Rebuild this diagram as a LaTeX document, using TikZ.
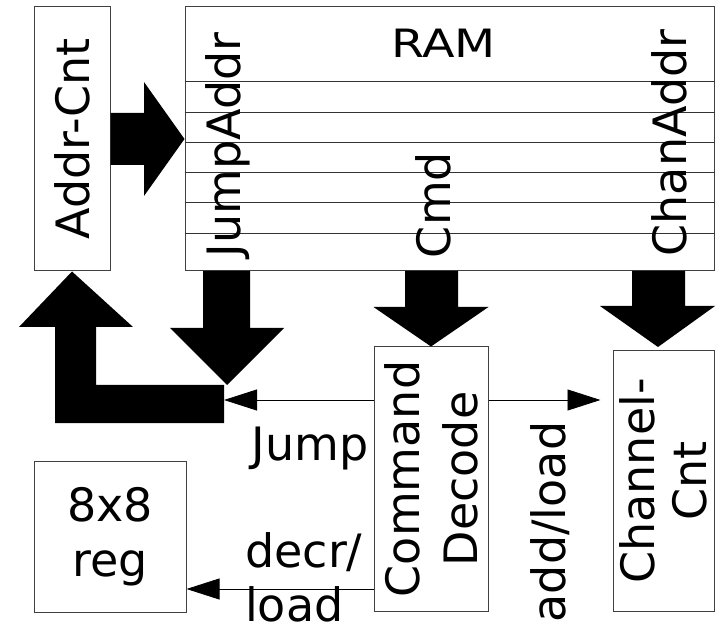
\documentclass[tikz,border=0pt]{standalone}
\usepackage{fontspec}
\setmainfont{DejaVu Sans}
\usetikzlibrary{arrows.meta}

\begin{document}
\begin{tikzpicture}[x=1pt, y=-1pt,
		box/.style={draw=black!75, line width=1pt, inner sep=0pt},
		txt/.style={font=\fontsize{46}{55}\selectfont, inner sep=0pt},
		rowline/.style={draw=black!80, line width=1pt},
		bigarrow/.style={fill=black},
		sig/.style={draw=black, line width=0.8pt, -{Triangle[length=33pt, width=21pt]}}]
		\useasboundingbox (0,0) rectangle (721,631);
		% blocks
		\node[box, minimum width=76, minimum height=264] (addr) at (72,139) {};
		\node[box, minimum width=529, minimum height=264] (ram) at (449.5,139) {};
		\node[box, minimum width=114, minimum height=264] (cmd) at (431,479) {};
		\node[box, minimum width=101, minimum height=260] (chan) at (663.5,481) {};
		\node[box, minimum width=152, minimum height=151] (reg) at (110,536.5) {};
		% memory rows
		\foreach \y in {82,113,143,173,203,234}
			\draw[rowline] (ram.west |- 0,\y) -- (ram.east |- 0,\y);
		% texts
		\node[txt, rotate=90] (addrlbl) at (addr.center) {Addr-Cnt};
		\node[txt, font=\fontsize{39}{45}\selectfont] (ramlbl) at (443.5,43.5) {\scalebox{1.22}[1]{RAM}};
		\node[txt, rotate=90] (jaddr) at (228,145) {JumpAddr};
		\node[txt, rotate=90] (cmdf) at (433,205) {Cmd};
		\node[txt, rotate=90] (caddr) at (669,143) {ChanAddr};
		\node[txt, rotate=90, align=center, font=\fontsize{46}{58}\selectfont] (cmdlbl) at (cmd.center) {Command\\Decode};
		\node[txt, rotate=90, align=center, font=\fontsize{46}{52}\selectfont] (chanlbl) at (chan.center) {Channel-\\Cnt};
		\node[txt, align=center] (reglbl) at (reg.center) {8x8\\reg};
		% wide buses
		\fill[bigarrow] (addr.east |- 0,113) -- (144,113) -- (144,82) -- (ram.west)
			-- (144,196) -- (144,165) -- (addr.east |- 0,165) -- cycle;
		\fill[bigarrow] (203,271) -- (250,271) -- (250,328) -- (284,328) -- (227,385)
			-- (170,328) -- (203,328) -- cycle;
		\fill[bigarrow] (405,271) -- (458,271) -- (458,307) -- (cmd.north east |- 0,307) -- (cmd.north)
			-- (cmd.north west |- 0,307) -- (405,307) -- cycle;
		\fill[bigarrow] (632,271) -- (685,271) -- (685,306) -- (715,306) -- (658,347)
			-- (600,306) -- (632,306) -- cycle;
		\fill[bigarrow] (addr.south) -- (133,327) -- (96,327) -- (96,385) -- (224,385)
			-- (224,423) -- (55,423) -- (55,327) -- (19,327) -- cycle;
		\coordinate (jbar) at (224,400);
		% control lines
		\draw[sig] (cmd.west |- 0,400) -- (jbar);
		\draw[sig, shorten >=12pt] (cmd.east |- 0,400) -- (chan.west |- 0,400);
		\draw[sig] (cmd.west |- 0,589) -- (reg.east |- 0,589);
		\node[txt, anchor=base] (jumplbl) at (310,460) {Jump};
		\node[txt, anchor=base west, align=left, font=\fontsize{46}{54}\selectfont] (declbl) at (245,621) {decr/\\load};
		\node[txt, rotate=90, anchor=base] (addlbl) at (565,522) {add/load};
\end{tikzpicture}
\end{document}
